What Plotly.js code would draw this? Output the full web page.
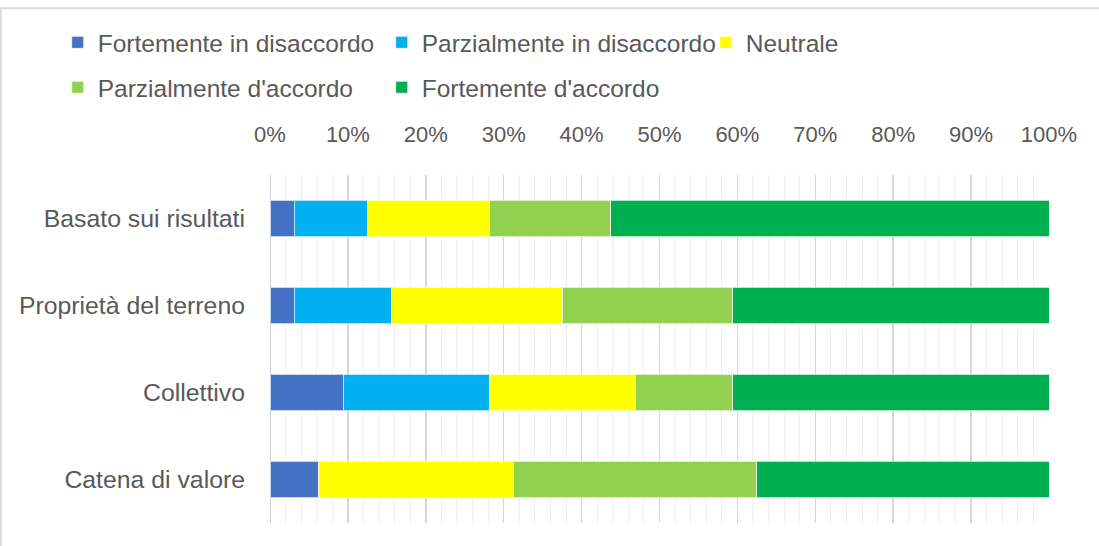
<!DOCTYPE html>
<html>
<head>
<meta charset="utf-8">
<script src="https://cdn.plot.ly/plotly-3.0.1.min.js"></script>
<style>html,body{margin:0;padding:0;background:#fff;}#chart{width:1099px;height:546px;}</style>
</head>
<body>
<div id="chart"></div>
<script>
const categories = ["Basato sui risultati", "Proprietà del terreno", "Collettivo", "Catena di valore"];
const seriesNames = ["Fortemente in disaccordo", "Parzialmente in disaccordo", "Neutrale", "Parzialmente d'accordo", "Fortemente d'accordo"];
const fortementeDisaccordo = [3.125, 3.125, 9.375, 6.25];
const parzialmenteDisaccordo = [9.375, 12.5, 18.75, 0];
const neutrale = [15.625, 21.875, 18.75, 25];
const parzialmenteAccordo = [15.625, 21.875, 12.5, 31.25];
const fortementeAccordo = [56.25, 40.625, 40.625, 37.5];
const tickVals = [0, 10, 20, 30, 40, 50, 60, 70, 80, 90, 100];
const tickLabels = ["0%", "10%", "20%", "30%", "40%", "50%", "60%", "70%", "80%", "90%", "100%"];
const colors = ["#4472C4", "#00B0F0", "#FFFF00", "#92D050", "#00B050"];

const seriesValues = [fortementeDisaccordo, parzialmenteDisaccordo, neutrale, parzialmenteAccordo, fortementeAccordo];
const legendOf = ["legend", "legend", "legend", "legend2", "legend2"];

const FONT = "Liberation Sans, Arial, sans-serif";
const TXT = "#595959";

const traces = seriesValues.map((vals, i) => ({
  type: "bar",
  orientation: "h",
  name: seriesNames[i],
  x: vals,
  y: categories,
  legend: legendOf[i],
  marker: { color: colors[i], line: { color: "rgba(255,255,255,0.7)", width: 1 } },
  hoverinfo: "x+name"
}));

const legendCommon = {
  orientation: "h",
  xanchor: "left",
  yanchor: "middle",
  font: { family: FONT, size: 24.5, color: TXT },
  entrywidth: 279,
  entrywidthmode: "pixels",
  itemwidth: 30,
  traceorder: "normal",
  bgcolor: "rgba(0,0,0,0)"
};

const layout = {
  width: 1099,
  height: 546,
  margin: { l: 270, r: 50, t: 175, b: 23, pad: 0 },
  paper_bgcolor: "#ffffff",
  plot_bgcolor: "#ffffff",
  barmode: "stack",
  bargap: 0.585,
  showlegend: true,
  legend: Object.assign({}, legendCommon, { x: -0.2725, y: 1.381 }),
  legend2: Object.assign({}, legendCommon, { x: -0.2725, y: 1.252 }),
  xaxis: {
    side: "top",
    range: [0, 100],
    tickmode: "array",
    tickvals: tickVals,
    ticktext: tickLabels,
    showgrid: true,
    gridcolor: "#d6d6d6",
    gridwidth: 1.5,
    minor: { dtick: 2, showgrid: true, gridcolor: "#efefef", gridwidth: 1 },
    zeroline: false,
    showline: false,
    ticks: "",
    ticklabelstandoff: 28,
    tickfont: { family: FONT, size: 22, color: TXT },
    fixedrange: true
  },
  yaxis: {
    autorange: "reversed",
    showgrid: false,
    zeroline: false,
    showline: false,
    ticks: "",
    ticklabelstandoff: 24,
    tickfont: { family: FONT, size: 24.8, color: TXT },
    fixedrange: true
  },
  shapes: [
    { type: "line", xref: "paper", yref: "paper", x0: -0.36, x1: 1.1, y0: 1.479, y1: 1.479, line: { color: "#d9d9d9", width: 2 } },
    { type: "line", xref: "paper", yref: "paper", x0: -0.3456, x1: -0.3456, y0: -0.1, y1: 1.479, line: { color: "#d9d9d9", width: 2 } },
    { type: "line", xref: "x", yref: "paper", x0: 0, x1: 0, y0: 0, y1: 1, line: { color: "#d0d0d0", width: 2 }, layer: "below" }
  ]
};

Plotly.newPlot("chart", traces, layout, { displayModeBar: false, staticPlot: true });
</script>
</body>
</html>
